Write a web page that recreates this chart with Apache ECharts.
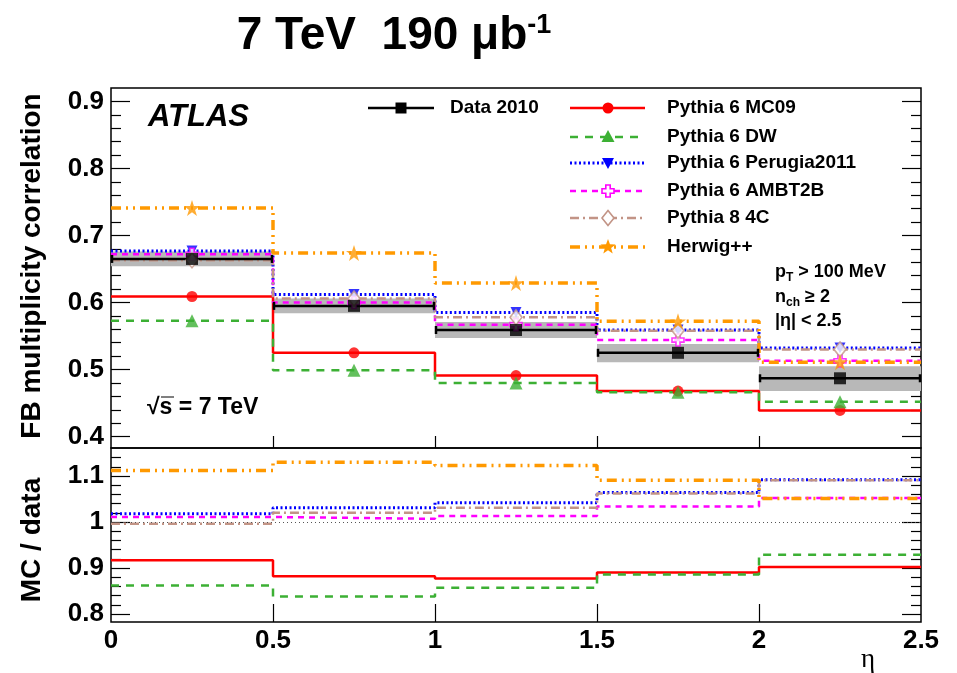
<!DOCTYPE html>
<html><head><meta charset="utf-8">
<script src="https://cdn.jsdelivr.net/npm/echarts@6/dist/echarts.min.js"></script>
<style>html,body{margin:0;padding:0;background:#fff}#c{width:957px;height:673px}</style>
</head><body><div id="c"></div>
<script>
// ---------------- data ----------------
const binEdges   = [0, 0.5, 1, 1.5, 2, 2.5];
const binCenters = [0.25, 0.75, 1.25, 1.75, 2.25];

const data2010   = [0.665, 0.595, 0.559, 0.525, 0.487];
const systLow    = [0.654, 0.584, 0.547, 0.511, 0.468];
const systHigh   = [0.676, 0.606, 0.571, 0.538, 0.505];

const pythia6MC09      = [0.609, 0.525, 0.491, 0.468, 0.439];
const pythia6DW        = [0.573, 0.499, 0.480, 0.466, 0.452];
const pythia6Perugia   = [0.677, 0.612, 0.585, 0.559, 0.532];
const pythia6AMBT2B    = [0.672, 0.600, 0.567, 0.544, 0.513];
const pythia84C        = [0.663, 0.606, 0.578, 0.558, 0.530];
const herwigpp         = [0.741, 0.674, 0.629, 0.572, 0.511];

const ratioMC09        = [0.917, 0.882, 0.877, 0.890, 0.902];
const ratioDW          = [0.862, 0.838, 0.857, 0.886, 0.929];
const ratioPerugia     = [1.018, 1.031, 1.042, 1.064, 1.092];
const ratioAMBT2B      = [1.011, 1.007, 1.013, 1.034, 1.052];
const ratio4C          = [0.996, 1.020, 1.031, 1.062, 1.091];
const ratioHerwig      = [1.112, 1.130, 1.123, 1.091, 1.051];
const ratioReference   = 1;

const xTickLabels      = [0, 0.5, 1, 1.5, 2, 2.5];
const xInnerTicks      = [0.5, 1, 1.5, 2];
const topMajorTicks    = [0.4, 0.5, 0.6, 0.7, 0.8, 0.9];
const topMinorTicks    = [0.42,0.44,0.46,0.48,0.52,0.54,0.56,0.58,0.62,0.64,0.66,0.68,0.72,0.74,0.76,0.78,0.82,0.84,0.86,0.88];
const ratioMajorTicks  = [0.8, 0.9, 1, 1.1];
const ratioMinorTicks  = [0.82,0.84,0.86,0.88,0.92,0.94,0.96,0.98,1.02,1.04,1.06,1.08,1.12,1.14];

const legendNames = ['Data 2010','Pythia 6 MC09','Pythia 6 DW','Pythia 6 Perugia2011','Pythia 6 AMBT2B','Pythia 8 4C','Herwig++'];

// ---------------- styles ----------------
const FONT = '"Liberation Sans", Arial, Helvetica, sans-serif';
const STAR = 'path://M50,0 L61.8,35.4 L99,35.4 L68.9,57.3 L80.4,92.7 L50,70.8 L19.6,92.7 L31.1,57.3 L1,35.4 L38.2,35.4 Z';
const CROSS = 'path://M33,0 L67,0 L67,33 L100,33 L100,67 L67,67 L67,100 L33,100 L33,67 L0,67 L0,33 L33,33 Z';
const models = [
  {name: legendNames[1], vals: pythia6MC09,    ratio: ratioMC09,    color:'#ff0000', dash:'solid',          width:2.5, symbol:'circle',   size:11, rot:0,   hollow:false, lw:'circle'},
  {name: legendNames[2], vals: pythia6DW,      ratio: ratioDW,      color:'#3cb034', dash:[8,7],            width:2.5, symbol:'triangle', size:13, rot:0,   hollow:false, lw:'tri'},
  {name: legendNames[3], vals: pythia6Perugia, ratio: ratioPerugia, color:'#0000ff', dash:[2,2.5],          width:3,   symbol:'triangle', size:11, rot:180, hollow:false, lw:'itri'},
  {name: legendNames[4], vals: pythia6AMBT2B,  ratio: ratioAMBT2B,  color:'#ff00ff', dash:[6,5],            width:2.5, symbol:CROSS,      size:12, rot:0,   hollow:true,  lw:'cross'},
  {name: legendNames[5], vals: pythia84C,      ratio: ratio4C,      color:'#c29486', dash:[9,4,2,4],        width:2.5, symbol:'diamond',  size:[12,15], rot:0, hollow:true,  lw:'diamond'},
  {name: legendNames[6], vals: herwigpp,       ratio: ratioHerwig,  color:'#ff9900', dash:[10,5,2,5,2,5],   width:3.5, symbol:STAR,       size:16, rot:0,   hollow:false, lw:'star'}
];

function stepData(vals){ return binEdges.map((e,i)=>[e, vals[Math.min(i, vals.length-1)]]); }
function pointData(vals){ return binCenters.map((c,i)=>[c, vals[i]]); }

// ---------------- axes ----------------
const L = 111, R = 36;
const grids = [
  {left:L, right:R, top:88, height:360, show:true, borderColor:'#000', borderWidth:1.5, backgroundColor:'transparent'},
  {left:L, right:R, top:448, height:174, show:true, borderColor:'#000', borderWidth:1.5, backgroundColor:'transparent'}
];
function yAx(grid, min, max, pos, ticks, len, labels){
  return {type:'value', gridIndex:grid, min:min, max:max, position:pos,
    axisLine:{show:false}, splitLine:{show:false},
    axisTick:{show:true, inside:true, length:len, customValues:ticks, lineStyle:{color:'#000', width:1.2}},
    axisLabel: labels ? {show:true, customValues:ticks, color:'#000', fontFamily:FONT, fontWeight:'bold', fontSize:26, margin:7} : {show:false}};
}
const xAxes = [
  {type:'value', gridIndex:0, min:0, max:2.5, axisLine:{show:false}, splitLine:{show:false},
   axisTick:{show:true, inside:true, length:12, customValues:xInnerTicks, lineStyle:{color:'#000', width:1.2}}, axisLabel:{show:false}},
  {type:'value', gridIndex:1, min:0, max:2.5, axisLine:{show:false}, splitLine:{show:false},
   axisTick:{show:true, inside:true, length:18, customValues:xInnerTicks, lineStyle:{color:'#000', width:1.2}},
   axisLabel:{show:true, customValues:xTickLabels, color:'#000', fontFamily:FONT, fontWeight:'bold', fontSize:26, margin:6}}
];
const yAxes = [
  yAx(0, 0.383, 0.92, 'left',  topMajorTicks, 19, true),
  yAx(0, 0.383, 0.92, 'left',  topMinorTicks, 10, false),
  yAx(0, 0.383, 0.92, 'right', topMajorTicks, 19, false),
  yAx(0, 0.383, 0.92, 'right', topMinorTicks, 10, false),
  yAx(1, 0.7826, 1.161, 'left',  ratioMajorTicks, 19, true),
  yAx(1, 0.7826, 1.161, 'left',  ratioMinorTicks, 10, false),
  yAx(1, 0.7826, 1.161, 'right', ratioMajorTicks, 19, false),
  yAx(1, 0.7826, 1.161, 'right', ratioMinorTicks, 10, false)
];

// ---------------- series ----------------
const series = [];
// systematic band
series.push({type:'custom', xAxisIndex:0, yAxisIndex:0, z:1, silent:true,
  data: binCenters.map((c,i)=>[binEdges[i], binEdges[i+1], systLow[i], systHigh[i]]),
  encode:{x:[0,1], y:[2,3]},
  renderItem(params, api){
    const p0 = api.coord([api.value(0), api.value(3)]);
    const p1 = api.coord([api.value(1), api.value(2)]);
    return {type:'rect', shape:{x:p0[0], y:p0[1], width:p1[0]-p0[0], height:p1[1]-p0[1]}, style:{fill:'#b8b8b8'}};
  }});
// MC step lines (top) and ratio lines
models.forEach((m, k)=>{
  series.push({type:'line', name:m.name, xAxisIndex:0, yAxisIndex:0, step:'end', symbol:'none', z:3+k*0.1,
    data: stepData(m.vals), lineStyle:{color:m.color, width:m.width, type:m.dash}, silent:true, animation:false});
  series.push({type:'line', xAxisIndex:1, yAxisIndex:4, step:'end', symbol:'none', z:3+k*0.1,
    data: stepData(m.ratio), lineStyle:{color:m.color, width:m.width, type:m.dash}, silent:true, animation:false,
    markLine: k===0 ? {silent:true, symbol:'none', label:{show:false}, lineStyle:{color:'#555', type:[1,3], width:1}, data:[{yAxis:ratioReference}]} : undefined});
});
// data error bars
series.push({type:'custom', xAxisIndex:0, yAxisIndex:0, z:5, silent:true,
  data: binCenters.map((c,i)=>[binEdges[i], binEdges[i+1], data2010[i]]),
  encode:{x:[0,1], y:2},
  renderItem(params, api){
    const a = api.coord([api.value(0), api.value(2)]);
    const b = api.coord([api.value(1), api.value(2)]);
    const st = {stroke:'#000', lineWidth:2.5};
    return {type:'group', children:[
      {type:'line', shape:{x1:a[0], y1:a[1], x2:b[0], y2:b[1]}, style:st},
      {type:'line', shape:{x1:a[0]+1, y1:a[1]-4, x2:a[0]+1, y2:a[1]+4}, style:st},
      {type:'line', shape:{x1:b[0]-1, y1:b[1]-4, x2:b[0]-1, y2:b[1]+4}, style:st}
    ]};
  }});
models.forEach((m, k)=>{
  series.push({type:'scatter', xAxisIndex:0, yAxisIndex:0, z:6+k*0.1, symbol:m.symbol, symbolSize:m.size, symbolRotate:m.rot,
    data: pointData(m.vals), silent:true, animation:false,
    itemStyle: m.hollow ? {color:'#ffffff', borderColor:m.color, borderWidth:1.6} : {color:m.color}});
});
series.push({type:'scatter', xAxisIndex:0, yAxisIndex:0, z:8, symbol:'rect', symbolSize:12,
  data: pointData(data2010), itemStyle:{color:'#000'}, silent:true, animation:false});

// ---------------- legend & texts (graphic) ----------------
const g = [];
function marker(kind, x, y, color){
  const fill = color, sw = 1.6;
  if(kind==='circle') return {type:'circle', shape:{cx:x, cy:y, r:5.5}, style:{fill}};
  if(kind==='square') return {type:'rect', shape:{x:x-5.5, y:y-5.5, width:11, height:11}, style:{fill}};
  if(kind==='tri') return {type:'polygon', shape:{points:[[x,y-7],[x+6.5,y+5],[x-6.5,y+5]]}, style:{fill}};
  if(kind==='itri') return {type:'polygon', shape:{points:[[x,y+6],[x+6,y-5],[x-6,y-5]]}, style:{fill}};
  if(kind==='diamond') return {type:'polygon', shape:{points:[[x,y-7.5],[x+6,y],[x,y+7.5],[x-6,y]]}, style:{fill:'#fff', stroke:color, lineWidth:sw}};
  if(kind==='cross'){ const a=2.2,b=6; return {type:'polygon', shape:{points:[[x-a,y-b],[x+a,y-b],[x+a,y-a],[x+b,y-a],[x+b,y+a],[x+a,y+a],[x+a,y+b],[x-a,y+b],[x-a,y+a],[x-b,y+a],[x-b,y-a],[x-a,y-a]]}, style:{fill:'#fff', stroke:color, lineWidth:sw}}; }
  if(kind==='star'){ const pts=[]; for(let i=0;i<10;i++){ const r = i%2? 3.3:8; const t = -Math.PI/2 + i*Math.PI/5; pts.push([x+r*Math.cos(t), y+r*Math.sin(t)]); } return {type:'polygon', shape:{points:pts}, style:{fill}}; }
}
// Data 2010 entry
g.push({type:'line', shape:{x1:368, y1:108, x2:434, y2:108}, style:{stroke:'#000', lineWidth:2.5}, z:100});
g.push(Object.assign(marker('square', 401, 108, '#000'), {z:101}));
g.push({type:'text', x:450, y:108, z:101, style:{text:legendNames[0], font:'bold 19px '+FONT, fill:'#000', verticalAlign:'middle'}});
const rowY = [108, 137, 163, 191, 218, 247];
models.forEach((m, k)=>{
  const y = rowY[k];
  const dash = m.dash==='solid' ? null : m.dash;
  g.push({type:'line', shape:{x1:570, y1:y, x2:645, y2:y}, style:{stroke:m.color, lineWidth:m.width, lineDash:dash}, z:100});
  g.push(Object.assign(marker(m.lw, 608, y, m.color), {z:101}));
  g.push({type:'text', x:667, y:y, z:101, style:{text:m.name, font:'bold 19px '+FONT, fill:'#000', verticalAlign:'middle'}});
});
// title
g.push({type:'text', x:394, y:36, z:101, style:{text:'{a|7 TeV  190 μb}{s|-1}', align:'center', verticalAlign:'middle',
  rich:{a:{font:'bold 46px '+FONT, fill:'#000'}, s:{font:'bold 27px '+FONT, fill:'#000', padding:[0,0,20,0]}}}});
// ATLAS
g.push({type:'text', x:148, y:117, z:101, style:{text:'ATLAS', font:'italic bold 31px '+FONT, fill:'#000', verticalAlign:'middle'}});
// sqrt(s)
g.push({type:'text', x:147, y:408, z:101, style:{text:'√s = 7 TeV', font:'bold 23px '+FONT, fill:'#000', verticalAlign:'middle'}});
g.push({type:'line', shape:{x1:161, y1:397, x2:174, y2:397}, style:{stroke:'#000', lineWidth:1}, z:101});
// cuts
g.push({type:'text', x:775, y:272, z:101, style:{text:'{n|p}{b|T}{n| > 100 MeV}', rich:{n:{font:'bold 18px '+FONT, fill:'#000'}, b:{font:'bold 12px '+FONT, fill:'#000', padding:[12,0,0,0]}}, verticalAlign:'middle'}});
g.push({type:'text', x:775, y:297, z:101, style:{text:'{n|n}{b|ch}{n| ≥ 2}', rich:{n:{font:'bold 18px '+FONT, fill:'#000'}, b:{font:'bold 12px '+FONT, fill:'#000', padding:[12,0,0,0]}}, verticalAlign:'middle'}});
g.push({type:'text', x:775, y:321, z:101, style:{text:'|η| < 2.5', font:'bold 18px '+FONT, fill:'#000', verticalAlign:'middle'}});
// axis titles
g.push({type:'text', x:32, y:266, rotation:Math.PI/2, z:101, style:{text:'FB multiplicity correlation', font:'bold 28px '+FONT, fill:'#000', align:'center', verticalAlign:'middle'}});
g.push({type:'text', x:32, y:540, rotation:Math.PI/2, z:101, style:{text:'MC / data', font:'bold 28px '+FONT, fill:'#000', align:'center', verticalAlign:'middle'}});
g.push({type:'text', x:868, y:660, z:101, style:{text:'η', font:'27px "Liberation Serif", "DejaVu Serif", serif', fill:'#000', align:'center', verticalAlign:'middle'}});

const chart = echarts.init(document.getElementById('c'), null, {renderer:'canvas'});
chart.setOption({
  animation:false, backgroundColor:'#fff',
  grid: grids, xAxis: xAxes, yAxis: yAxes, series: series, graphic: g
});
</script></body></html>
